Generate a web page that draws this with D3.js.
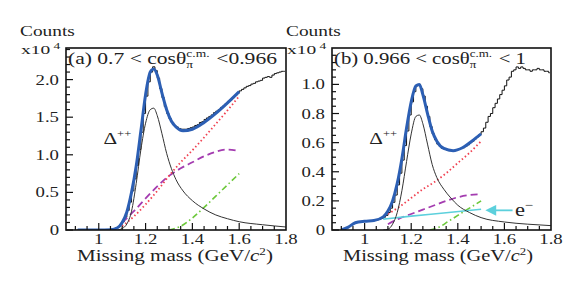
<!DOCTYPE html>
<html>
<head>
<meta charset="utf-8">
<script src="https://cdn.jsdelivr.net/npm/d3@7"></script>
<style>
  body { margin: 0; background: #fff; }
  svg, svg text, svg tspan { font-family: 'Liberation Serif', 'DejaVu Serif', serif; }
</style>
</head>
<body>
<div id="chart"></div>
<script>
// histogram bins: left edges, width 0.01 GeV/c^2, from 0.90 to 1.80
const binEdges = d3.range(90).map(function(i) { return +(0.90 + i * 0.01).toFixed(2) });
const binWidth = 0.01;

// panel (a) 0.7 < cos < 0.966, counts x10^4
const histA = [0, 0, 0, 0, 0, 0, 0, 0, 0, 0, 0, 0, 0, 0,
  0.005, 0.01, 0.015, 0.025, 0.04, 0.07, 0.11, 0.17, 0.26, 0.37, 0.52, 0.68, 0.86, 1.07, 1.30, 1.55,
  1.78, 1.97, 2.10, 2.17, 2.12, 2.02, 1.88, 1.76, 1.64, 1.55, 1.48, 1.43, 1.39, 1.37, 1.35, 1.34,
  1.34, 1.34, 1.35, 1.36, 1.37, 1.39, 1.40, 1.43, 1.44, 1.47, 1.49, 1.51, 1.53, 1.56, 1.58, 1.60,
  1.63, 1.65, 1.68, 1.71, 1.73, 1.76, 1.79, 1.82, 1.85, 1.87, 1.89, 1.91, 1.92, 1.94, 1.95, 1.97,
  1.98, 1.99, 2.02, 2.03, 2.04, 2.03, 2.06, 2.08, 2.09, 2.10, 2.11, 2.11];
const fitA = [[0.91, 0], [1.0, 0], [1.05, 0.005], [1.08, 0.03], [1.10, 0.10], [1.12, 0.24], [1.14, 0.50], [1.16, 0.85],
  [1.18, 1.32], [1.20, 1.80], [1.22, 2.10], [1.235, 2.14], [1.25, 2.06], [1.27, 1.82], [1.29, 1.60], [1.31, 1.45],
  [1.33, 1.37], [1.36, 1.32], [1.40, 1.34], [1.45, 1.43], [1.50, 1.55], [1.55, 1.69], [1.60, 1.84]];
const deltaA = [[1.08, 0], [1.10, 0.02], [1.12, 0.08], [1.14, 0.25], [1.16, 0.62], [1.18, 1.07], [1.20, 1.42],
  [1.22, 1.60], [1.235, 1.62], [1.25, 1.52], [1.27, 1.28], [1.29, 1.02], [1.31, 0.82], [1.33, 0.67], [1.36, 0.52],
  [1.40, 0.39], [1.45, 0.28], [1.50, 0.20], [1.55, 0.15], [1.60, 0.11], [1.70, 0.07], [1.80, 0.04]];
const redA = [[1.10, 0.05], [1.15, 0.18], [1.20, 0.34], [1.25, 0.52], [1.30, 0.72], [1.35, 0.90], [1.40, 1.06],
  [1.45, 1.23], [1.50, 1.41], [1.55, 1.59], [1.60, 1.78]];
const magentaA = [[1.10, 0.10], [1.15, 0.25], [1.20, 0.42], [1.25, 0.58], [1.30, 0.72], [1.35, 0.82], [1.40, 0.90],
  [1.45, 0.98], [1.50, 1.04], [1.55, 1.07], [1.60, 1.05]];
const greenA = [[1.30, 0], [1.35, 0.05], [1.40, 0.16], [1.45, 0.30], [1.50, 0.45], [1.55, 0.60], [1.60, 0.75]];

// panel (b) 0.966 < cos < 1
const histB = [0, 0.005, 0.015, 0.025, 0.035, 0.045, 0.052, 0.056, 0.058, 0.06, 0.06, 0.061, 0.062, 0.064,
  0.066, 0.069, 0.073, 0.079, 0.088, 0.10, 0.12, 0.15, 0.19, 0.24, 0.31, 0.39, 0.48, 0.58, 0.68, 0.79,
  0.88, 0.95, 0.99, 1.00, 0.97, 0.92, 0.85, 0.78, 0.71, 0.66, 0.62, 0.59, 0.575, 0.56, 0.555, 0.55,
  0.545, 0.545, 0.545, 0.55, 0.555, 0.56, 0.565, 0.575, 0.585, 0.60, 0.61, 0.625, 0.64, 0.655, 0.675, 0.70,
  0.74, 0.78, 0.80, 0.84, 0.87, 0.90, 0.93, 0.96, 0.99, 1.03, 1.05, 1.09, 1.10, 1.12, 1.11, 1.12,
  1.11, 1.10, 1.10, 1.09, 1.10, 1.10, 1.11, 1.10, 1.10, 1.09, 1.09, 1.08];
const fitB = [[0.90, 0], [0.93, 0.02], [0.96, 0.05], [1.00, 0.06], [1.04, 0.065], [1.08, 0.09], [1.10, 0.13],
  [1.12, 0.20], [1.14, 0.32], [1.16, 0.49], [1.18, 0.70], [1.20, 0.88], [1.22, 0.99], [1.235, 1.00], [1.25, 0.93],
  [1.27, 0.80], [1.29, 0.68], [1.31, 0.61], [1.34, 0.56], [1.38, 0.545], [1.42, 0.565], [1.46, 0.61], [1.50, 0.66]];
const deltaB = [[1.08, 0], [1.10, 0.005], [1.12, 0.04], [1.14, 0.12], [1.16, 0.27], [1.18, 0.47], [1.20, 0.66],
  [1.22, 0.78], [1.235, 0.79], [1.25, 0.73], [1.27, 0.59], [1.29, 0.45], [1.31, 0.36], [1.34, 0.28], [1.37, 0.22],
  [1.40, 0.17], [1.45, 0.12], [1.50, 0.085], [1.60, 0.055], [1.70, 0.04], [1.80, 0.03]];
const redB = [[1.10, 0.11], [1.15, 0.16], [1.20, 0.22], [1.25, 0.28], [1.30, 0.33], [1.35, 0.39], [1.40, 0.46],
  [1.45, 0.53], [1.50, 0.61]];
const magentaB = [[1.10, 0.04], [1.15, 0.08], [1.20, 0.11], [1.25, 0.14], [1.30, 0.17], [1.35, 0.20], [1.40, 0.225],
  [1.45, 0.24], [1.50, 0.245]];
const greenB = [[1.28, 0], [1.32, 0.02], [1.36, 0.06], [1.40, 0.10], [1.45, 0.15], [1.50, 0.20]];
const electronB = [[1.08, 0.075], [1.2, 0.095], [1.35, 0.118], [1.5, 0.142]];

const xTicks = [1, 1.2, 1.4, 1.6, 1.8];
const yTicksA = [0, 0.5, 1.0, 1.5, 2.0];
const yTicksB = [0, 0.2, 0.4, 0.6, 0.8, 1.0];

const W = 580, H = 286;
const STRETCH = 1.25; // the source figure is stretched sideways

const svg = d3.select('#chart').append('svg').attr('width', W).attr('height', H);

// text in a group scaled sideways; if width is given the text is fitted to it
function label(parent, x, y, size, anchor, width) {
  const g = parent.append('g');
  const t = g.append('text').attr('font-size', size).attr('fill', '#222').attr('text-anchor', anchor || 'start');
  return {
    text: t,
    done: function() {
      let sx = STRETCH;
      if (width) sx = width / t.node().getBBox().width;
      g.attr('transform', 'translate(' + x + ',' + y + ') scale(' + sx + ',1)');
    }
  };
}

function drawPanel(p) {
  const x = d3.scaleLinear().domain([0.86, 1.8]).range([p.left, p.right]);
  const y = d3.scaleLinear().domain([0, p.ymax]).range([p.bottom, p.top]);
  const g = svg.append('g');

  const clipId = 'clip-' + p.id;
  g.append('clipPath').attr('id', clipId).append('rect')
    .attr('x', p.left).attr('y', p.top).attr('width', p.right - p.left).attr('height', p.bottom - p.top);

  const plot = g.append('g').attr('clip-path', 'url(#' + clipId + ')');
  const smooth = d3.line().curve(d3.curveMonotoneX).x(function(d) { return x(d[0]) }).y(function(d) { return y(d[1]) });

  // data histogram as steps, one point per bin centre
  const steps = binEdges.map(function(e, i) { return [e + binWidth / 2, p.hist[i]] });
  plot.append('path').datum(steps)
    .attr('d', d3.line().curve(d3.curveStep).x(function(d) { return x(d[0]) }).y(function(d) { return y(d[1]) }))
    .attr('fill', 'none').attr('stroke', '#111').attr('stroke-width', 1);

  plot.append('path').datum(p.green).attr('d', smooth)
    .attr('fill', 'none').attr('stroke', '#6cc83a').attr('stroke-width', 1.6).attr('stroke-dasharray', '6,3,1.5,3');
  plot.append('path').datum(p.magenta).attr('d', smooth)
    .attr('fill', 'none').attr('stroke', '#a43cb0').attr('stroke-width', 1.8).attr('stroke-dasharray', '7,4');
  plot.append('path').datum(p.red).attr('d', smooth)
    .attr('fill', 'none').attr('stroke', '#f04050').attr('stroke-width', 1.8).attr('stroke-dasharray', '1.5,2.5');
  if (p.electron) {
    plot.append('path').datum(p.electron).attr('d', smooth)
      .attr('fill', 'none').attr('stroke', '#5cd0dc').attr('stroke-width', 1.6);
  }
  plot.append('path').datum(p.delta).attr('d', smooth)
    .attr('fill', 'none').attr('stroke', '#333').attr('stroke-width', 1);
  plot.append('path').datum(p.fit).attr('d', smooth)
    .attr('fill', 'none').attr('stroke', '#2c5fb4').attr('stroke-width', 3).attr('stroke-linejoin', 'round');

  // ticks, drawn inward
  x.ticks(20).filter(function(t) { return t > 0.86 && t < 1.8 }).forEach(function(t) {
    const major = xTicks.some(function(m) { return Math.abs(m - t) < 1e-6 });
    g.append('line').attr('x1', x(t)).attr('x2', x(t)).attr('y1', p.bottom).attr('y2', p.bottom - (major ? 7 : 4))
      .attr('stroke', '#111').attr('stroke-width', 1.2);
  });
  d3.range(0, p.ymax, p.yMinor).forEach(function(t) {
    const major = p.yTicks.some(function(m) { return Math.abs(m - t) < 1e-6 });
    g.append('line').attr('x1', p.left).attr('x2', p.left + (major ? 7 : 4)).attr('y1', y(t)).attr('y2', y(t))
      .attr('stroke', '#111').attr('stroke-width', 1.2);
  });

  // tick labels
  xTicks.forEach(function(t) {
    const l = label(g, x(t), p.bottom + 14, 15, 'middle');
    l.text.text(d3.format('')(t));
    l.done();
  });
  p.yTicks.forEach(function(t) {
    const l = label(g, p.left - 7, y(t) + 5, 15, 'end');
    l.text.text(t === 0 ? '0' : d3.format('.1f')(t));
    l.done();
  });

  g.append('rect').attr('x', p.left).attr('y', p.top).attr('width', p.right - p.left).attr('height', p.bottom - p.top)
    .attr('fill', 'none').attr('stroke', '#111').attr('stroke-width', 1.6);

  // labels
  const c = label(g, p.left - 46, 36, 15, 'start', 55);
  c.text.text('Counts');
  c.done();
  const m = label(g, p.left - 45, 54, 13, 'start', 40);
  m.text.append('tspan').text('x10');
  m.text.append('tspan').attr('dy', -5).attr('font-size', 9).text(' 4');
  m.done();

  const tl = label(g, p.left + 2, 64, 16, 'start', p.titleWidth);
  const t = tl.text;
  t.append('tspan').text(p.title);
  const w1 = t.node().getComputedTextLength();
  t.append('tspan').attr('dy', -7).attr('font-size', 10).text('c.m.');
  const w2 = t.node().getComputedTextLength();
  t.append('tspan').attr('x', w1).attr('dy', 11).attr('font-size', 10).text('π');
  t.append('tspan').attr('x', w2 + 1).attr('dy', -4).text(p.titleEnd);
  tl.done();

  const dl = label(g, x(p.deltaLabel[0]), y(p.deltaLabel[1]), 17, 'start');
  dl.text.append('tspan').text('Δ');
  dl.text.append('tspan').attr('dy', -7).attr('font-size', 10).text('++');
  dl.done();

  const xl = label(g, p.xTitleCenter, 261, 16, 'middle', p.xTitleWidth);
  xl.text.append('tspan').text('Missing mass (GeV/');
  xl.text.append('tspan').attr('font-style', 'italic').text('c');
  xl.text.append('tspan').attr('dy', -6).attr('font-size', 10).text('2');
  xl.text.append('tspan').attr('dy', 6).text(')');
  xl.done();

  return { x: x, y: y, g: g };
}

drawPanel({ id: 'a', left: 66, right: 286, top: 48, bottom: 230, ymax: 2.42, yMinor: 0.1, yTicks: yTicksA,
  hist: histA, fit: fitA, delta: deltaA, red: redA, magenta: magentaA, green: greenA,
  title: '(a) 0.7 < cosθ', titleEnd: ' <0.966', titleWidth: 209, deltaLabel: [1.02, 1.15],
  xTitleCenter: 175, xTitleWidth: 196 });

const pb = drawPanel({ id: 'b', left: 332, right: 551, top: 48, bottom: 230, ymax: 1.25, yMinor: 0.05, yTicks: yTicksB,
  hist: histB, fit: fitB, delta: deltaB, red: redB, magenta: magentaB, green: greenB, electron: electronB,
  title: '(b) 0.966 < cosθ', titleEnd: ' < 1', titleWidth: 192, deltaLabel: [1.02, 0.59],
  xTitleCenter: 438, xTitleWidth: 190 });

// e- arrow annotation
const defs = svg.append('defs');
defs.append('marker').attr('id', 'arrowhead').attr('viewBox', '0 0 10 10').attr('refX', 1).attr('refY', 5)
  .attr('markerWidth', 7).attr('markerHeight', 6).attr('orient', 'auto-start-reverse')
  .append('path').attr('d', 'M0,0 L10,5 L0,10 z').attr('fill', '#5cd0dc');
pb.g.append('line')
  .attr('x1', pb.x(1.635)).attr('x2', pb.x(1.56)).attr('y1', pb.y(0.135)).attr('y2', pb.y(0.135))
  .attr('stroke', '#5cd0dc').attr('stroke-width', 1.8).attr('marker-end', 'url(#arrowhead)');
const el = label(pb.g, pb.x(1.645), pb.y(0.135) + 6, 18, 'start');
el.text.append('tspan').text('e');
el.text.append('tspan').attr('dy', -7).attr('font-size', 12).text('−');
el.done();
</script>
</body>
</html>
